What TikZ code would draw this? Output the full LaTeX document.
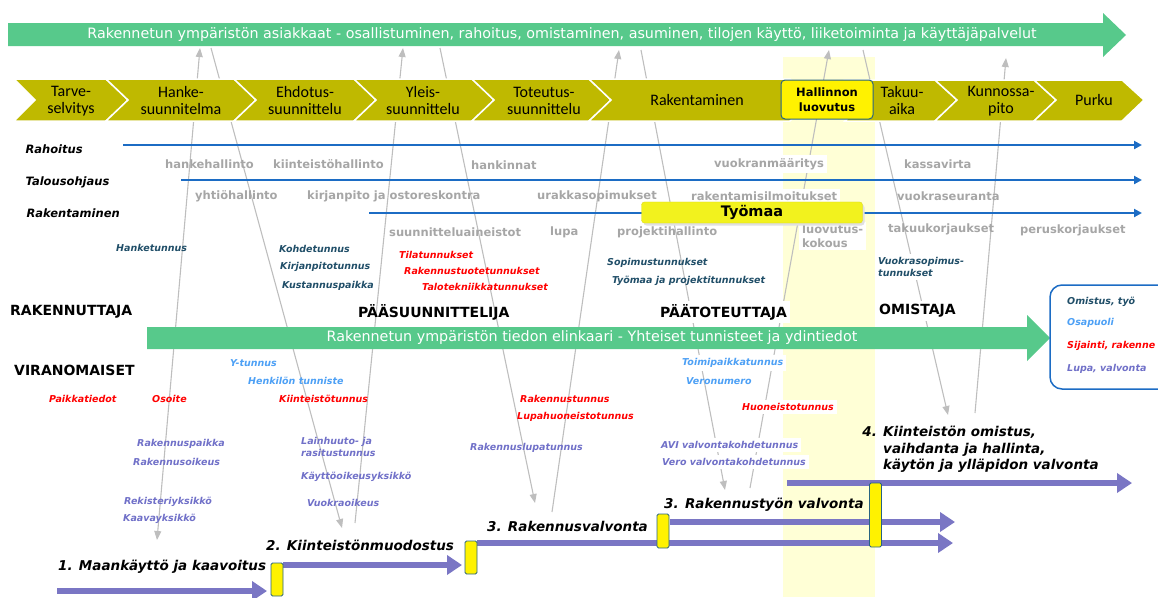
\documentclass[tikz,border=0pt]{standalone}
\usepackage{fontspec}
\setmainfont{DejaVu Sans}
\newfontfamily\calibri{Carlito}
\usetikzlibrary{arrows.meta}

\definecolor{bannergreen}{RGB}{87,201,139}
\definecolor{chevron}{RGB}{191,185,0}
\definecolor{lineblue}{RGB}{28,108,196}
\definecolor{greytext}{RGB}{166,166,166}
\definecolor{tealtext}{RGB}{32,78,104}
\definecolor{lightblue}{RGB}{77,160,245}
\definecolor{purpletext}{RGB}{112,112,200}
\definecolor{flowpurple}{RGB}{122,118,196}
\definecolor{paleyellow}{RGB}{255,255,214}
\definecolor{bordteal}{RGB}{40,100,130}
\definecolor{connector}{RGB}{190,190,190}
\definecolor{siteyellow}{RGB}{242,242,30}

\tikzset{
  phase/.style={font=\calibri\fontsize{16}{17}\selectfont, align=center},
  area/.style={font=\bfseries\itshape\fontsize{11.5}{13}\selectfont, anchor=west},
  task/.style={font=\bfseries\fontsize{11.5}{14}\selectfont, text=greytext, anchor=west, inner sep=1pt},
  ident/.style={font=\bfseries\itshape\fontsize{9.5}{12}\selectfont, anchor=west, inner sep=1pt},
  role/.style={font=\bfseries\fontsize{14}{16}\selectfont, anchor=west, inner sep=1pt},
  stage/.style={font=\bfseries\itshape\fontsize{13.5}{16.5}\selectfont, anchor=west, align=left, inner sep=1pt},
  onwhite/.style={fill=white, inner sep=3pt},
  flowarrow/.style={draw=flowpurple, line width=6pt, -{Triangle[length=15pt,width=19pt]}},
  timeline/.style={draw=lineblue, line width=2.2pt, -{Triangle[length=8pt,width=8pt]}},
  link/.style={draw=connector, line width=1.1pt},
  bar/.style={draw=bordteal, fill=yellow, rounded corners=1.5pt, line width=0.8pt, minimum width=12pt, inner sep=0pt},
  >={Triangle[length=9pt,width=7pt]}
}

\begin{document}
\begin{tikzpicture}[x=1pt,y=-1pt]
    \useasboundingbox (0,0) rectangle (1158,597);

    \fill[paleyellow] (783,57) rectangle (875,597);

    % links between the customers and the phases
    \coordinate (up1) at (200,48);   \coordinate (foot1) at (157,540);
    \coordinate (down2) at (211,48); \coordinate (foot2) at (342,528);
    \coordinate (up2) at (403,48);   \coordinate (foot3) at (355,523);
    \coordinate (down3) at (440,48); \coordinate (foot4) at (535,503);
    \coordinate (up3) at (619,50);   \coordinate (foot5) at (552,512);
    \coordinate (down4) at (641,50); \coordinate (foot6) at (725,490);
    \coordinate (up4) at (829,50);   \coordinate (foot7) at (750,488);
    \coordinate (down5) at (863,50); \coordinate (foot8) at (948,415);
    \coordinate (up5) at (1006,58);  \coordinate (foot9) at (975,413);
    \draw[link, <->] (foot1) -- (up1);
    \draw[link, ->] (down2) -- (foot2);
    \draw[link, ->] (foot3) -- (up2);
    \draw[link, ->] (down3) -- (foot4);
    \draw[link, ->] (foot5) -- (up3);
    \draw[link, ->] (down4) -- (foot6);
    \draw[link, ->] (foot7) -- (up4);
    \draw[link, ->] (down5) -- (foot8);
    \draw[link, ->] (foot9) -- (up5);

    \fill[bannergreen] (8,23) -- (1103,23) -- (1103,13) -- (1126,35) -- (1103,57) -- (1103,46) -- (8,46) -- cycle;
    \node[text=white, font=\fontsize{14.3}{15}\selectfont] (asiakkaat) at (562,35) {Rakennetun ympäristön asiakkaat - osallistuminen, rahoitus, omistaminen, asuminen, tilojen käyttö, liiketoiminta ja käyttäjäpalvelut};

    % phases
    \filldraw[fill=chevron, draw=white, line width=1.5pt] (14,79) -- (106,79) -- (128,100) -- (106,121) -- (14,121) -- (35,100) -- cycle;
    \filldraw[fill=chevron, draw=white, line width=1.5pt] (106,79) -- (234,79) -- (256,100) -- (234,121) -- (106,121) -- (128,100) -- cycle;
    \filldraw[fill=chevron, draw=white, line width=1.5pt] (234,79) -- (354,79) -- (376,100) -- (354,121) -- (234,121) -- (256,100) -- cycle;
    \filldraw[fill=chevron, draw=white, line width=1.5pt] (354,79) -- (472,79) -- (494,100) -- (472,121) -- (354,121) -- (376,100) -- cycle;
    \filldraw[fill=chevron, draw=white, line width=1.5pt] (472,79) -- (589,79) -- (611,100) -- (589,121) -- (472,121) -- (494,100) -- cycle;
    \filldraw[fill=chevron, draw=white, line width=1.5pt] (589,79) -- (790,79) -- (812,100) -- (790,121) -- (589,121) -- (611,100) -- cycle;
    \filldraw[fill=chevron, draw=white, line width=1.5pt] (845,80) -- (935,80) -- (957,100) -- (935,121) -- (845,121) -- (867,100) -- cycle;
    \filldraw[fill=chevron, draw=white, line width=1.5pt] (935,80) -- (1034,80) -- (1056,100) -- (1034,121) -- (935,121) -- (957,100) -- cycle;
    \filldraw[fill=chevron, draw=white, line width=1.5pt] (1034,80) -- (1122,80) -- (1144,100) -- (1122,121) -- (1034,121) -- (1056,100) -- cycle;

    \node[phase] (tarve) at (71,101) {Tarve-\\selvitys};
    \node[phase] (hanke) at (181,101) {Hanke-\\suunnitelma};
    \node[phase] (ehdotus) at (305,101) {Ehdotus-\\suunnittelu};
    \node[phase] (yleis) at (423,101) {Yleis-\\suunnittelu};
    \node[phase] (toteutus) at (544,101) {Toteutus-\\suunnittelu};
    \node[phase] (rakentaminen) at (697,100) {Rakentaminen};
    \node[phase] (takuu) at (902,101) {Takuu-\\aika};
    \node[phase] (kunnossapito) at (1001,101) {Kunnossa-\\pito};
    \node[phase] (purku) at (1094,100) {Purku};
    \node[draw=bordteal, fill=yellow, rounded corners=4pt, line width=1pt, minimum width=92pt, minimum height=39pt, align=center, font=\bfseries\fontsize{11.5}{15}\selectfont] (luovutus) at (827,99.5) {Hallinnon\\luovutus};

    % timelines
    \node[area] (rahoitus) at (22,149) {Rahoitus};
    \node[area] (talous) at (22,182) {Talousohjaus};
    \node[area] (rakentamisala) at (23,213) {Rakentaminen};
    \draw[timeline] (123,145) -- (1142,145);
    \draw[timeline] (181,180) -- (1142,180);
    \draw[timeline] (369,213) -- (1142,213);

    \node[task] (hankehallinto) at (164,164) {hankehallinto};
    \node[task] (kiinteistohallinto) at (272,164) {kiinteistöhallinto};
    \node[task] (hankinnat) at (470,165) {hankinnat};
    \node[task, onwhite] (vuokranmaaritys) at (711,164) {vuokranmääritys};
    \node[task] (kassavirta) at (903,164) {kassavirta};
    \node[task] (yhtiohallinto) at (194,196) {yhtiöhallinto};
    \node[task] (kirjanpito) at (306,196) {kirjanpito ja ostoreskontra};
    \node[task] (urakka) at (536,196) {urakkasopimukset};
    \node[task, onwhite] (ilmoitukset) at (688,196) {rakentamisilmoitukset};
    \node[task] (vuokraseuranta) at (896,196) {vuokraseuranta};
    \node[task] (aineistot) at (388,232) {suunnitteluaineistot};
    \node[task] (lupa) at (549,232) {lupa};
    \node[task] (projektihallinto) at (616,232) {projektihallinto};
    \node[task, onwhite, align=left] (kokous) at (799,236) {luovutus-\\kokous};
    \node[task] (takuukorjaukset) at (887,229) {takuukorjaukset};
    \node[task] (peruskorjaukset) at (1019,230) {peruskorjaukset};
    \fill[black!12, rounded corners=3pt] (643.5,204.5) rectangle (864.5,225.5);
    \node[draw=siteyellow!90!black, fill=siteyellow, rounded corners=3pt, minimum width=221pt, minimum height=21pt, font=\bfseries\fontsize{14.5}{16}\selectfont] (tyomaa) at (752,212.5) {Työmaa};

    % identifiers
    \node[ident, text=tealtext] (hanketunnus) at (115,248) {Hanketunnus};
    \node[ident, text=tealtext] (kohdetunnus) at (278,249) {Kohdetunnus};
    \node[ident, text=tealtext] (kirjanpitotunnus) at (279,267) {Kirjanpitotunnus};
    \node[ident, text=tealtext] (kustannuspaikka) at (281,286) {Kustannuspaikka};
    \node[ident, text=red] (tilatunnukset) at (398,255) {Tilatunnukset};
    \node[ident, text=red] (tuotetunnukset) at (403,271) {Rakennustuotetunnukset};
    \node[ident, text=red] (talotekniikka) at (421,287) {Talotekniikkatunnukset};
    \node[ident, text=tealtext] (sopimustunnukset) at (606,263) {Sopimustunnukset};
    \node[ident, text=tealtext] (projektitunnukset) at (611,281) {Työmaa ja projektitunnukset};
    \node[ident, text=tealtext, onwhite, align=left] (vuokrasopimus) at (875,267) {Vuokrasopimus-\\tunnukset};

    % parties
    \node[role] (rakennuttaja) at (9,312) {RAKENNUTTAJA};
    \node[role] (paasuunnittelija) at (357,312) {PÄÄSUUNNITTELIJA};
    \node[role, onwhite] (paatoteuttaja) at (657,312) {PÄÄTOTEUTTAJA};
    \node[role, onwhite] (omistaja) at (876,311) {OMISTAJA};
    \node[role] (viranomaiset) at (13,370) {VIRANOMAISET};

    \fill[bannergreen] (147,327) -- (1027,327) -- (1027,315) -- (1050,338) -- (1027,361) -- (1027,349) -- (147,349) -- cycle;
    \node[text=white, font=\fontsize{14.3}{15}\selectfont] (elinkaari) at (592,338) {Rakennetun ympäristön tiedon elinkaari - Yhteiset tunnisteet ja ydintiedot};

    \draw[draw=lineblue, line width=1.5pt, rounded corners=12pt] (1050,285) rectangle (1190,389);
    \node[ident, text=tealtext] (omistus) at (1066,302) {Omistus, työ};
    \node[ident, text=lightblue] (osapuoli) at (1066,323) {Osapuoli};
    \node[ident, text=red] (sijainti) at (1066,346) {Sijainti, rakenne};
    \node[ident, text=purpletext] (valvonta) at (1066,369) {Lupa, valvonta};

    \node[ident, text=lightblue] (ytunnus) at (229,363) {Y-tunnus};
    \node[ident, text=lightblue] (henkilo) at (247,381) {Henkilön tunniste};
    \node[ident, text=lightblue, onwhite] (toimipaikka) at (679,363) {Toimipaikkatunnus};
    \node[ident, text=lightblue] (veronumero) at (685,381) {Veronumero};
    \node[ident, text=red] (paikkatiedot) at (48,399) {Paikkatiedot};
    \node[ident, text=red] (osoite) at (151,399) {Osoite};
    \node[ident, text=red] (kiinteistotunnus) at (278,399) {Kiinteistötunnus};
    \node[ident, text=red] (rakennustunnus) at (519,399) {Rakennustunnus};
    \node[ident, text=red] (lupahuoneisto) at (516,417) {Lupahuoneistotunnus};
    \node[ident, text=red, onwhite] (huoneisto) at (739,407) {Huoneistotunnus};
    \node[ident, text=purpletext] (rakennuspaikka) at (136,444) {Rakennuspaikka};
    \node[ident, text=purpletext] (rakennusoikeus) at (132,462) {Rakennusoikeus};
    \node[ident, text=purpletext] (rekisteri) at (123,502) {Rekisteriyksikkö};
    \node[ident, text=purpletext] (kaava) at (122,519) {Kaavayksikkö};
    \node[ident, text=purpletext, align=left] (lainhuuto) at (300,447) {Lainhuuto- ja\\rasitustunnus};
    \node[ident, text=purpletext] (kayttooikeus) at (300,477) {Käyttöoikeusyksikkö};
    \node[ident, text=purpletext] (vuokraoikeus) at (306,503) {Vuokraoikeus};
    \node[ident, text=purpletext] (lupatunnus) at (469,448) {Rakennuslupatunnus};
    \node[ident, text=purpletext, onwhite] (avi) at (658,445) {AVI valvontakohdetunnus};
    \node[ident, text=purpletext, onwhite] (vero) at (659,462) {Vero valvontakohdetunnus};

    % authority processes
    \coordinate (start1) at (57,591);  \coordinate (end1) at (267,591);
    \coordinate (start2) at (283,565); \coordinate (end2) at (462,565);
    \coordinate (start3) at (477,543); \coordinate (end3) at (953,543);
    \coordinate (start4) at (670,522); \coordinate (end4) at (955,522);
    \coordinate (start5) at (787,483); \coordinate (end5) at (1132,483);
    \draw[flowarrow] (start1) -- (end1);
    \draw[flowarrow] (start2) -- (end2);
    \draw[flowarrow] (start3) -- (end3);
    \draw[flowarrow] (start4) -- (end4);
    \draw[flowarrow] (start5) -- (end5);
    \node[bar, minimum height=33pt] (bar1) at (277,579.5) {};
    \node[bar, minimum height=33pt] (bar2) at (471,557.5) {};
    \node[bar, minimum height=34pt] (bar3) at (663,531) {};
    \node[bar, minimum height=64pt] (bar4) at (875.5,515) {};

    \node[stage] (maankaytto) at (57,567) {1. Maankäyttö ja kaavoitus};
    \node[stage] (kiinteistonmuodostus) at (265,545) {2. Kiinteistönmuodostus};
    \node[stage] (rakennusvalvonta) at (486,526) {3. Rakennusvalvonta};
    \node[stage] (tyonvalvonta) at (663,505) {3. Rakennustyön valvonta};
    \node[stage] (omistus4) at (882,449.5) {\llap{4. }Kiinteistön omistus,\\vaihdanta ja hallinta,\\käytön ja ylläpidon valvonta};
\end{tikzpicture}
\end{document}
